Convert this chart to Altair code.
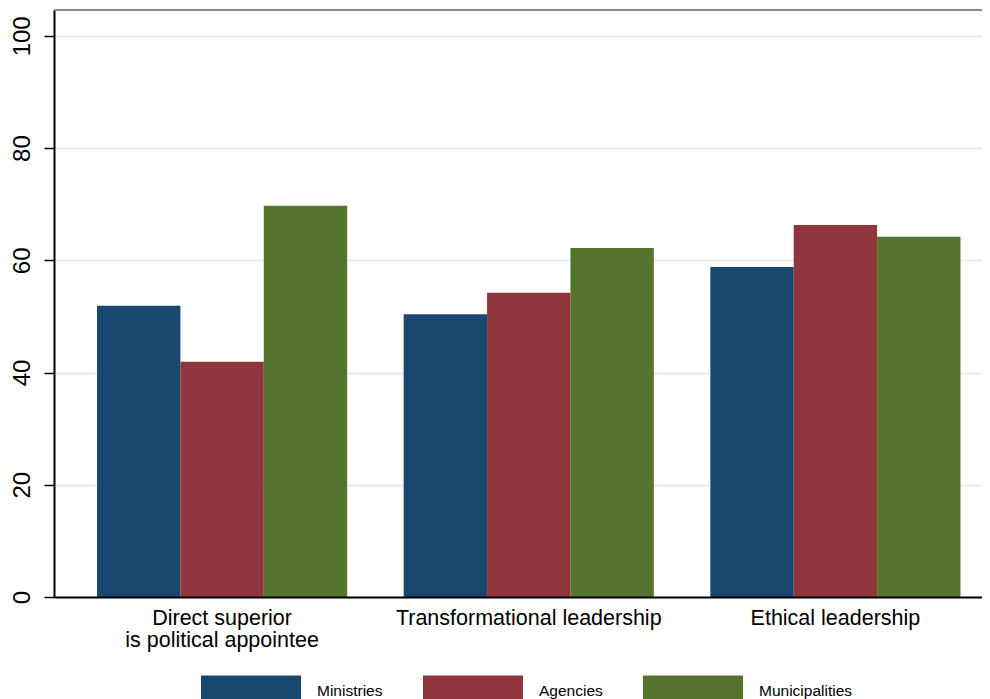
import altair as alt
import pandas as pd

categories = ["Direct superior\nis political appointee", "Transformational leadership", "Ethical leadership"]
groups = ["Ministries", "Agencies", "Municipalities"]
ministries = [51.9, 50.4, 58.8]
agencies = [41.9, 54.2, 66.3]
municipalities = [69.7, 62.2, 64.2]
colors = ["#1a476f", "#90353b", "#55752f"]
y_ticks = [0, 20, 40, 60, 80, 100]

rows = []
for g, vals in zip(groups, [ministries, agencies, municipalities]):
    for c, v in zip(categories, vals):
        rows.append({"category": c, "group": g, "value": v})
df = pd.DataFrame(rows)

W, H = 928, 587
font = "Liberation Sans"

bars = alt.Chart(df).mark_bar(strokeWidth=0).encode(
    x=alt.X(
        "category:N",
        sort=categories,
        scale=alt.Scale(paddingInner=0.1843, paddingOuter=0.1052, align=0.6667),
        axis=alt.Axis(
            title=None, labelAngle=0, ticks=False, tickSize=0, labelPadding=10,
            labelFontSize=21.5, labelColor="black", labelFont=font,
            labelExpr="split(datum.label, '\\n')", labelLineHeight=22,
            labelBaseline="top", domainColor="black", domainWidth=2,
            grid=False, labelLimit=400, zindex=1,
        ),
    ),
    xOffset=alt.XOffset("group:N", sort=groups, scale=alt.Scale(paddingInner=0, paddingOuter=0)),
    y=alt.Y(
        "value:Q",
        scale=alt.Scale(domain=[0, 104.6], nice=False, zero=True),
        axis=alt.Axis(
            title=None, values=y_ticks, labelAngle=270, labelAlign="center",
            labelBaseline="alphabetic", labelPadding=15, tickSize=10,
            tickColor="black", tickWidth=1.5, labelFontSize=24, labelFont=font,
            labelColor="black", domainColor="black", domainWidth=2,
            grid=True, gridColor="#e6ecef", gridWidth=2,
        ),
    ),
    color=alt.Color(
        "group:N",
        sort=groups,
        scale=alt.Scale(domain=groups, range=colors),
        legend=alt.Legend(
            title=None, orient="none", legendX=147, legendY=630.5,
            direction="horizontal", symbolType="M-1,-0.3H1V0.3H-1Z",
            symbolSize=10000, symbolStrokeWidth=0, symbolOpacity=1,
            labelFontSize=15.5, labelFont=font, labelColor="black",
            labelOffset=16, columnPadding=40, padding=0,
        ),
    ),
)

top = alt.Chart(alt.Data(values=[{}])).mark_rule(color="#8a8a8a", strokeWidth=2).encode(
    x=alt.value(0), x2=alt.value(W), y=alt.value(0)
)

chart = (
    alt.layer(bars, top)
    .properties(
        width=W,
        height=H,
        autosize=alt.AutoSizeParams(type="none"),
        padding={"left": 46, "top": 2, "right": 0, "bottom": 102},
    )
    .configure_view(stroke=None)
)

chart.save("out.html", embed_options={"renderer": "svg", "actions": False})
